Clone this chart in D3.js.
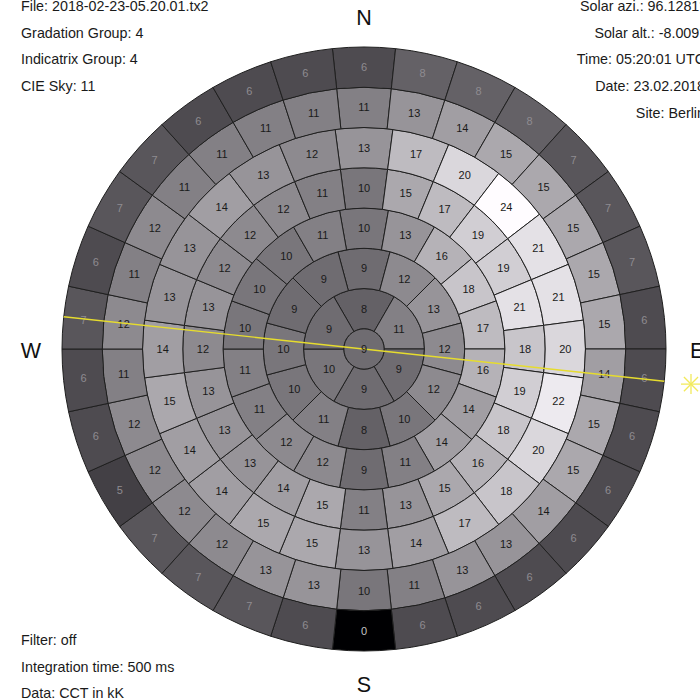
<!DOCTYPE html>
<html>
<head>
<meta charset="utf-8">
<script src="https://cdn.jsdelivr.net/npm/d3@7"></script>
<style>
  html, body { margin: 0; padding: 0; background: #fff; overflow: hidden; }
  svg { display: block; font-family: "Liberation Sans", Arial, Helvetica, sans-serif; }
</style>
</head>
<body>
<svg id="chart" width="700" height="700"></svg>
<script>
// Sky scanner patch values (CCT in kK), listed per band from north, clockwise.
const zenithValue = [9];
const band78 = [8, 11, 9, 9, 10, 9];
const band66 = [9, 12, 13, 12, 12, 10, 8, 11, 10, 10, 9, 9];
const band54 = [10, 13, 16, 18, 17, 16, 14, 14, 11, 9, 12, 12, 11, 11, 10, 10, 10, 11];
const band42 = [10, 15, 17, 19, 19, 21, 18, 19, 18, 16, 15, 13, 11, 15, 14, 13, 13, 13, 12, 13, 12, 12, 12, 11];
const band30 = [13, 17, 20, 24, 21, 21, 20, 22, 20, 18, 17, 14, 13, 15, 15, 14, 14, 15, 14, 13, 13, 14, 13, 12];
const band18 = [11, 13, 14, 15, 15, 15, 15, 15, 14, 15, 15, 14, 13, 13, 11, 10, 13, 13, 12, 12, 12, 12, 11, 12, 11, 12, 11, 11, 11, 11];
const band6  = [6, 8, 8, 8, 7, 7, 7, 6, 6, 6, 6, 6, 6, 6, 6, 0, 6, 7, 7, 7, 5, 6, 6, 7, 6, 7, 7, 6, 6, 6];

// Zenith-angle edges of the bands (degrees), innermost first.
const bandEdges = [0, 6, 18, 30, 42, 54, 66, 78, 90];

const leftInfo = ["File: 2018-02-23-05.20.01.tx2", "Gradation Group: 4", "Indicatrix Group: 4", "CIE Sky: 11"];
const rightInfo = ["Solar azi.: 96.1281°", "Solar alt.: -8.009°", "Time: 05:20:01 UTC", "Date: 23.02.2018", "Site: Berlin"];
const footInfo = ["Filter: off", "Integration time: 500 ms", "Data: CCT in kK"];
const compass = ["N", "E", "S", "W"];
const solarAzimuth = 96.1281;
const solarAltitude = -8.009;

const svg = d3.select("#chart");
const cx = 364, cy = 349, R = 302;

const rScale = d3.scaleLinear().domain([0, 90]).range([0, R]);
const grey = d3.scalePow().exponent(0.85).domain([0, 24]).range([0, 255]).clamp(true);
const fillFor = v => {
  const g = grey(v);
  return d3.rgb(g, Math.max(0, g - 3), Math.min(255, g + 2)).toString();
};

const bands = [band78, band66, band54, band42, band30, band18, band6];

const patches = [];
bands.forEach((vals, b) => {
  const n = vals.length;
  const step = 2 * Math.PI / n;
  vals.forEach((v, i) => {
    patches.push({
      value: v,
      band: b + 1,
      innerRadius: rScale(bandEdges[b + 1]),
      outerRadius: rScale(bandEdges[b + 2]),
      startAngle: i * step - step / 2,
      endAngle: i * step + step / 2
    });
  });
});

const arc = d3.arc();
const g = svg.append("g").attr("transform", `translate(${cx},${cy})`);

g.selectAll("path.patch")
  .data(patches)
  .join("path")
  .attr("class", "patch")
  .attr("d", arc)
  .attr("fill", d => fillFor(d.value))
  .attr("stroke", "#1f1f1f")
  .attr("stroke-width", 1);

g.append("circle")
  .attr("r", rScale(bandEdges[1]))
  .attr("fill", fillFor(zenithValue[0]))
  .attr("stroke", "#1f1f1f")
  .attr("stroke-width", 1);

g.selectAll("text.val")
  .data(patches)
  .join("text")
  .attr("class", "val")
  .attr("transform", d => `translate(${arc.centroid(d)})`)
  .attr("text-anchor", "middle")
  .attr("dy", "0.36em")
  .attr("font-size", 11)
  .attr("fill", d => d.band === 7 ? (d.value < 3 ? "#c4c4c4" : "#8f8c91") : "#1a1a1a")
  .text(d => d.value);

// Solar azimuth line across the dome and sun marker
const az = solarAzimuth * Math.PI / 180;
const pt = r => [r * Math.sin(az), -r * Math.cos(az)];
const lineEnds = [pt(-R), pt(R)];
g.append("line")
  .attr("x1", lineEnds[0][0]).attr("y1", lineEnds[0][1])
  .attr("x2", lineEnds[1][0]).attr("y2", lineEnds[1][1])
  .attr("stroke", "#e6dc2e")
  .attr("stroke-width", 1.4);

g.append("text")
  .attr("x", 0).attr("y", 0)
  .attr("text-anchor", "middle")
  .attr("dy", "0.36em")
  .attr("font-size", 11)
  .attr("fill", "#1a1a1a")
  .text(zenithValue[0]);

const sunPos = pt(rScale(90 - solarAltitude));
const sun = g.append("g").attr("transform", `translate(${sunPos})`);
d3.range(4).forEach(k => {
  const a = k * Math.PI / 4;
  sun.append("line")
    .attr("x1", -10 * Math.cos(a)).attr("y1", -10 * Math.sin(a))
    .attr("x2", 10 * Math.cos(a)).attr("y2", 10 * Math.sin(a))
    .attr("stroke", "#f2ea5c")
    .attr("stroke-width", 1.3);
});

// Compass letters
const compassPos = {
  N: { x: cx, y: 24.7, anchor: "middle" },
  S: { x: cx, y: 691.5, anchor: "middle" },
  W: { x: 31, y: 357.5, anchor: "middle" },
  E: { x: 690, y: 357.5, anchor: "start" }
};
svg.selectAll("text.compass")
  .data(compass)
  .join("text")
  .attr("class", "compass")
  .attr("x", d => compassPos[d].x)
  .attr("y", d => compassPos[d].y)
  .attr("text-anchor", d => compassPos[d].anchor)
  .attr("font-size", 21.5)
  .attr("fill", "#111")
  .text(d => d);

// Info text blocks
const lineStep = 26.7;
svg.selectAll("text.left")
  .data(leftInfo)
  .join("text")
  .attr("class", "left")
  .attr("x", 21)
  .attr("y", (d, i) => 11 + i * lineStep)
  .attr("font-size", 14.3)
  .attr("fill", "#1a1a1a")
  .text(d => d);

svg.selectAll("text.right")
  .data(rightInfo)
  .join("text")
  .attr("class", "right")
  .attr("x", 705)
  .attr("y", (d, i) => 11 + i * lineStep)
  .attr("text-anchor", "end")
  .attr("font-size", 14.3)
  .attr("fill", "#1a1a1a")
  .text(d => d);

svg.selectAll("text.foot")
  .data(footInfo)
  .join("text")
  .attr("class", "foot")
  .attr("x", 21)
  .attr("y", (d, i) => 645 + i * lineStep)
  .attr("font-size", 14.3)
  .attr("fill", "#1a1a1a")
  .text(d => d);
</script>
</body>
</html>
